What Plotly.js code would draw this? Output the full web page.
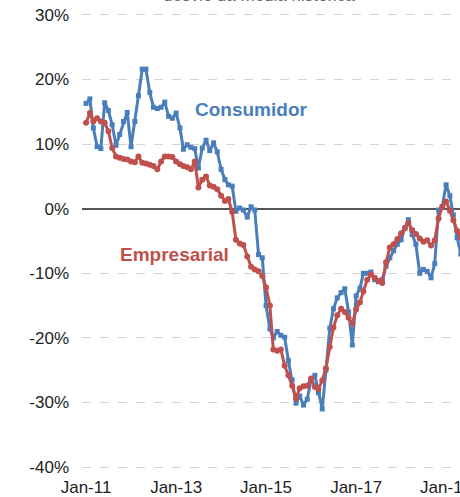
<!DOCTYPE html>
<html><head><meta charset="utf-8">
<script src="https://cdn.plot.ly/plotly-3.0.1.min.js"></script>
<style>
html,body{margin:0;padding:0;overflow:hidden;background:#fff;width:460px;height:497px}
#chart{width:520px;height:497px}
</style>
</head><body><div id="chart"></div>
<script>
// Monthly series, Jan-2011 onward (% deviation from historical mean)
const consumidor = [
  16.3, 17.0, 12.5, 9.6, 9.3, 16.4, 15.2, 13.0, 9.8, 11.5,
  13.5, 14.9, 9.6, 13.5, 17.5, 21.6, 21.6, 18.0, 15.7, 15.5,
  15.7, 16.5, 14.3, 14.0, 14.8, 12.5, 9.2, 9.9, 9.5, 9.3,
  6.3, 9.4, 10.6, 9.0, 10.2, 8.8, 6.1, 4.5, 3.7, 3.5,
  -0.4, 0.1, -0.2, -1.3, 0.3, -0.2, -7.1, -7.6, -15.0, -18.6,
  -20.0, -19.0, -19.6, -19.9, -23.5, -26.5, -30.1, -29.0, -30.4, -29.5,
  -26.5, -25.8, -28.5, -31.0, -25.0, -18.5, -15.5, -13.8, -13.0, -12.4,
  -16.0, -21.1, -13.5, -12.3, -10.0, -10.0, -9.8, -11.0, -11.3, -11.0,
  -8.9, -7.6, -6.5, -5.5, -4.8, -3.0, -1.7, -4.0, -5.5, -10.0,
  -9.4, -9.7, -10.7, -8.5, -0.2, 0.3, 3.7, 2.0, -1.0, -4.5,
  -7.0
];
const empresarial = [
  13.3, 14.8, 13.5, 14.0, 13.5, 13.3, 12.0, 9.4, 8.1, 7.9,
  7.7, 7.6, 7.3, 7.2, 8.1, 7.1, 7.0, 6.8, 6.6, 6.1,
  7.3, 8.1, 8.1, 8.0, 7.3, 6.9, 6.6, 6.4, 6.1, 7.3,
  3.3, 4.5, 5.0, 3.6, 3.4, 3.0, 2.0, 1.2, 1.5, -0.5,
  -4.8, -5.4, -5.6, -7.4, -9.0, -9.4, -9.7, -10.4, -12.2, -15.0,
  -21.8, -22.0, -21.8, -24.3, -25.8, -27.4, -29.4, -27.8, -27.5, -27.4,
  -26.3, -27.6, -27.9, -26.6, -24.7, -21.4, -18.4, -16.5, -15.5, -16.0,
  -16.9, -17.8, -15.6, -14.5, -12.8, -11.0, -10.2, -10.7, -11.2, -11.5,
  -8.3, -6.0, -5.5, -4.7, -3.8, -3.0, -2.2, -3.3, -3.9, -4.6,
  -5.1, -4.9, -5.7, -4.9, -1.5, 0.3, 1.1, -0.3, -1.8, -3.4,
  -4.5
];
const seriesNames = ['Consumidor', 'Empresarial'];
const yTickVals = [-40, -30, -20, -10, 0, 10, 20, 30];
const yTickText = ['-40%', '-30%', '-20%', '-10%', '0%', '10%', '20%', '30%'];
const titleText = 'desvio da média histórica';

const months = consumidor.map((_, i) => {
  const y = 2011 + Math.floor(i / 12);
  const m = (i % 12) + 1;
  return y + '-' + String(m).padStart(2, '0') + '-01';
});

const BLUE = '#4a7ebb', RED = '#c0504d';
const FONT = 'Liberation Sans, Arial, sans-serif';

const traces = [
  {x: months, y: consumidor, name: seriesNames[0], type: 'scatter', mode: 'lines+markers',
   line: {color: BLUE, width: 3}, marker: {symbol: 'square', size: 5, color: BLUE}},
  {x: months, y: empresarial, name: seriesNames[1], type: 'scatter', mode: 'lines+markers',
   line: {color: RED, width: 3}, marker: {symbol: 'circle', size: 6, color: RED}}
];

const layout = {
  width: 520, height: 497,
  margin: {l: 82, r: 0, t: 12, b: 27},
  paper_bgcolor: '#fff', plot_bgcolor: '#fff',
  showlegend: false,
  font: {family: FONT, color: '#222', size: 17},
  xaxis: {
    type: 'date', range: ['2010-11-29', '2020-08-23'],
    tick0: '2011-01-01', dtick: 'M24', tickformat: '%b-%y',
    showgrid: false, showline: false, zeroline: false,
    ticks: 'outside', ticklen: 2, tickcolor: 'rgba(0,0,0,0)',
    tickfont: {size: 17, color: '#222'}
  },
  yaxis: {
    range: [-40.45, 30.45], tickmode: 'array', tickvals: yTickVals, ticktext: yTickText,
    showgrid: true, gridcolor: '#d4d4d4', griddash: 'dash', gridwidth: 1,
    zeroline: true, zerolinecolor: '#555555', zerolinewidth: 1.6,
    showline: false, ticks: '', ticklabelstandoff: 12,
    tickfont: {size: 17, color: '#222'}
  },
  annotations: [
    {x: '2014-09-01', y: 15.3, xref: 'x', yref: 'y', text: '<b>' + seriesNames[0] + '</b>',
     showarrow: false, font: {size: 19, color: BLUE, family: FONT}},
    {x: '2012-12-20', y: -7.1, xref: 'x', yref: 'y', text: '<b>' + seriesNames[1] + '</b>',
     showarrow: false, font: {size: 19, color: RED, family: FONT}},
    {x: '2014-11-04', y: 30, xref: 'x', yref: 'y', yanchor: 'bottom', yshift: 8,
     text: titleText, showarrow: false, font: {size: 17, color: '#666', family: FONT}}
  ]
};

Plotly.newPlot('chart', traces, layout, {displayModeBar: false, staticPlot: true});
</script>
</body></html>
